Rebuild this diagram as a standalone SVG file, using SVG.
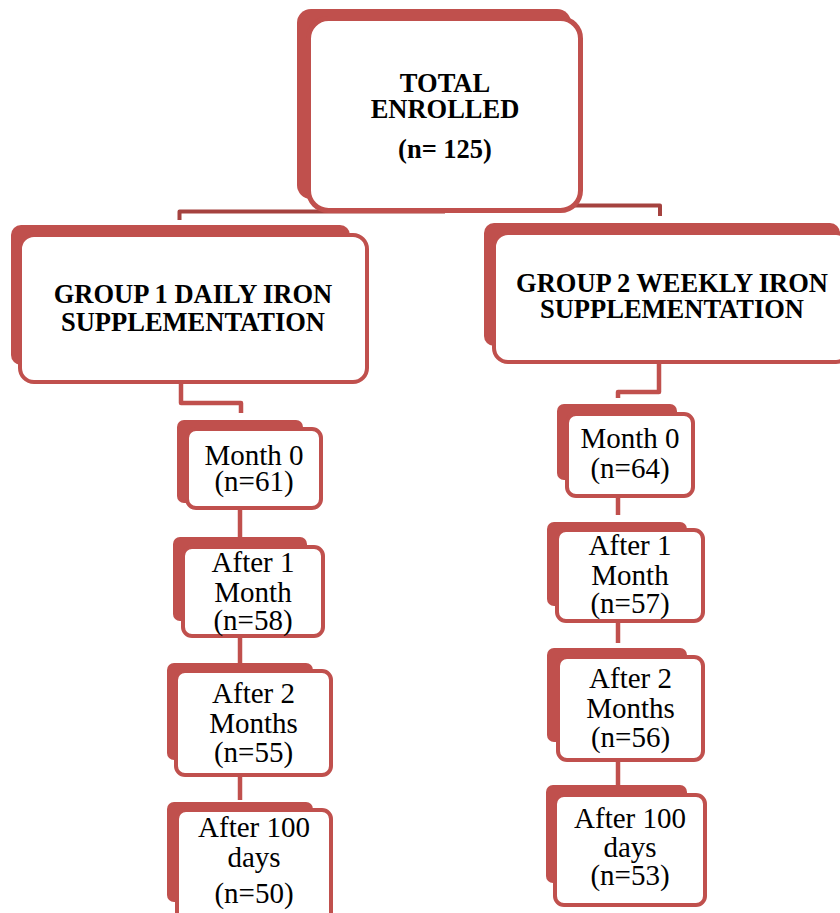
<svg xmlns="http://www.w3.org/2000/svg" width="840" height="913" viewBox="0 0 840 913">
<style>
.sh{fill:#C0504D;}
.bx{fill:#FFFFFF;stroke:#C0504D;stroke-width:4;}
.conn{fill:none;stroke:#C0504D;stroke-width:4.5;stroke-linejoin:round;}
.conn2{fill:none;stroke:#A5423F;stroke-width:4;stroke-linejoin:round;}
.hd{font-family:"Liberation Serif","Times New Roman",serif;font-weight:bold;font-size:26.5px;fill:#000;text-anchor:middle;}
.tx{font-family:"Liberation Serif","Times New Roman",serif;font-size:29px;fill:#000;text-anchor:middle;}
</style>
<rect width="840" height="913" fill="#FFFFFF"/>
<g id="connectors">
<path class="conn2" d="M445,211.5 H179.5 V220"/>
<path class="conn2" d="M445,205.5 H660 V216"/>
<path class="conn" d="M181,384 V403 H241 V413"/>
<path class="conn" d="M240,510 V537"/>
<path class="conn" d="M240,638 V663"/>
<path class="conn" d="M240,777 V800"/>
<path class="conn" d="M659,364 V392 H618 V398"/>
<path class="conn" d="M618,498 V515"/>
<path class="conn" d="M618,623 V643"/>
<path class="conn" d="M618,762 V785"/>
</g>
<g id="total">
<rect class="sh" x="297" y="9" width="274" height="190" rx="14"/>
<rect class="bx" x="308.5" y="18.5" width="272" height="192" rx="20" style="stroke-width:5"/>
<text class="hd" x="445" y="92">TOTAL</text>
<text class="hd" x="445" y="118">ENROLLED</text>
<text class="hd" x="445" y="158">(n= 125)</text>
</g>
<g id="group1">
<rect class="sh" x="11" y="225" width="339" height="140" rx="10"/>
<rect class="bx" x="20" y="235" width="347" height="147" rx="14"/>
<text class="hd" x="193" y="303">GROUP 1 DAILY IRON</text>
<text class="hd" x="193" y="331">SUPPLEMENTATION</text>
</g>
<g id="group2">
<rect class="sh" x="484" y="223" width="356" height="123" rx="10"/>
<rect class="bx" x="494" y="233" width="356" height="129" rx="14"/>
<text class="hd" x="672" y="292">GROUP 2 WEEKLY IRON</text>
<text class="hd" x="672" y="318">SUPPLEMENTATION</text>
</g>
<g id="g1-month0">
<rect class="sh" x="177" y="420" width="126" height="83" rx="7"/>
<rect class="bx" x="187" y="429" width="134" height="79" rx="9"/>
<text class="tx" x="254" y="465">Month 0</text>
<text class="tx" x="254" y="491">(n=61)</text>
</g>
<g id="g1-after1">
<rect class="sh" x="173" y="537" width="134" height="84" rx="7"/>
<rect class="bx" x="183" y="547" width="140" height="89" rx="9"/>
<text class="tx" x="253" y="572">After 1</text>
<text class="tx" x="253" y="602">Month</text>
<text class="tx" x="253" y="630">(n=58)</text>
</g>
<g id="g1-after2">
<rect class="sh" x="167" y="663" width="146" height="97" rx="7"/>
<rect class="bx" x="176" y="671" width="155" height="104" rx="9"/>
<text class="tx" x="253.5" y="703">After 2</text>
<text class="tx" x="253.5" y="733">Months</text>
<text class="tx" x="253.5" y="762">(n=55)</text>
</g>
<g id="g1-after100">
<rect class="sh" x="167" y="802" width="146" height="100" rx="7"/>
<rect class="bx" x="177" y="810" width="154" height="120" rx="9"/>
<text class="tx" x="254" y="837">After 100</text>
<text class="tx" x="254" y="867">days</text>
<text class="tx" x="254" y="903">(n=50)</text>
</g>
<g id="g2-month0">
<rect class="sh" x="557" y="404" width="120" height="76" rx="7"/>
<rect class="bx" x="567" y="414" width="126" height="82" rx="9"/>
<text class="tx" x="630" y="448">Month 0</text>
<text class="tx" x="630" y="478">(n=64)</text>
</g>
<g id="g2-after1">
<rect class="sh" x="547" y="522" width="140" height="84" rx="7"/>
<rect class="bx" x="557" y="530" width="146" height="91" rx="9"/>
<text class="tx" x="630" y="555">After 1</text>
<text class="tx" x="630" y="585">Month</text>
<text class="tx" x="630" y="613">(n=57)</text>
</g>
<g id="g2-after2">
<rect class="sh" x="547" y="648" width="140" height="94" rx="7"/>
<rect class="bx" x="558" y="657" width="145" height="103" rx="9"/>
<text class="tx" x="630.5" y="688">After 2</text>
<text class="tx" x="630.5" y="718">Months</text>
<text class="tx" x="630.5" y="747">(n=56)</text>
</g>
<g id="g2-after100">
<rect class="sh" x="546" y="785" width="141" height="98" rx="7"/>
<rect class="bx" x="555" y="795" width="150" height="110" rx="9"/>
<text class="tx" x="630" y="828">After 100</text>
<text class="tx" x="630" y="857">days</text>
<text class="tx" x="630" y="885">(n=53)</text>
</g>
</svg>
